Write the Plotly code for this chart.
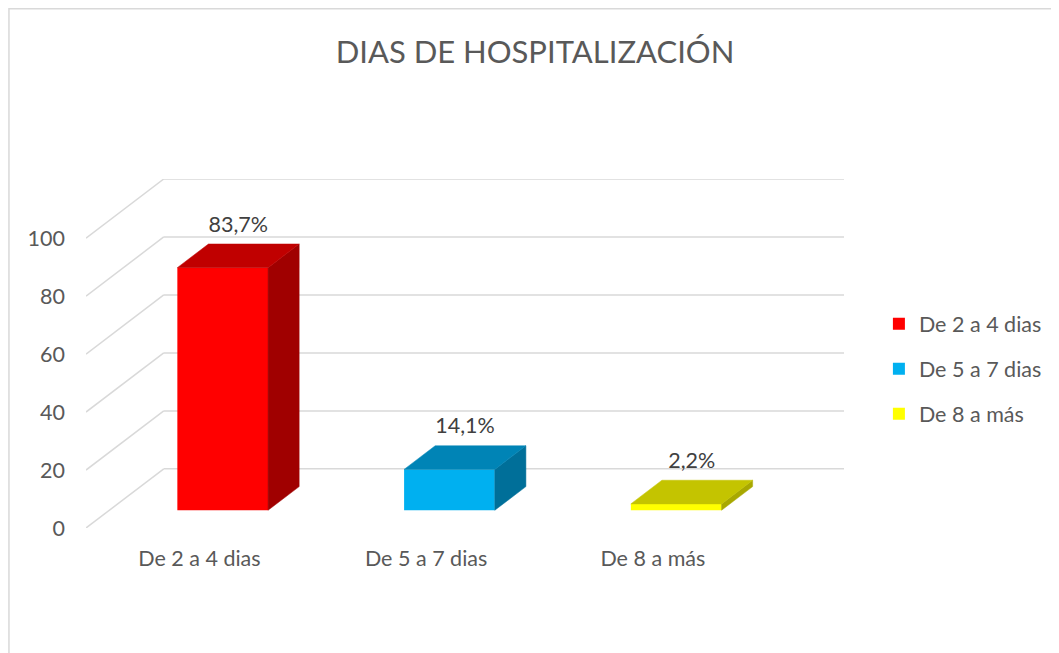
import plotly.graph_objects as go

# ---- data ----
categories = ["De 2 a 4 dias", "De 5 a 7 dias", "De 8 a más"]
values = [83.7, 14.1, 2.2]
y_ticks = [0, 20, 40, 60, 80, 100]
title_text = "DIAS DE HOSPITALIZACIÓN"

# ---- style ----
front_colors = ["#FF0000", "#00B0F0", "#FFFF00"]
top_colors = ["#C00000", "#0084B6", "#C4C400"]
side_colors = ["#A00000", "#006F99", "#A8A800"]
grid_color = "#D9D9D9"
text_color = "#595959"
FONT = "Lato"
FS = 21.5

# pseudo-3D projection (depth vector in data units)
DX, DY = 0.343, 20.4
F0, F1 = 0.3, 0.7      # bar depth span (fraction of depth)
HALF = 0.2             # half bar width (category units)

# figure geometry (page has an 8px body margin)
W, H = 1051, 645
ML, MR, MT, MB = 78, 213, 171, 125
PW, PH = W - ML - MR, H - MT - MB

fig = go.Figure()

# front faces as bars
for i, (cat, v) in enumerate(zip(categories, values)):
    fig.add_trace(go.Bar(
        x=[i + F0 * DX], y=[v], base=[F0 * DY], width=[2 * HALF],
        name=cat, legendgroup=cat,
        marker=dict(color=front_colors[i], line=dict(width=0)),
        hoverinfo="skip",
    ))

# top & side faces
for i, v in enumerate(values):
    xl, xr = i - HALF, i + HALF
    top_x = [xl + F0 * DX, xr + F0 * DX, xr + F1 * DX, xl + F1 * DX, xl + F0 * DX]
    top_y = [v + F0 * DY, v + F0 * DY, v + F1 * DY, v + F1 * DY, v + F0 * DY]
    side_x = [xr + F0 * DX, xr + F0 * DX, xr + F1 * DX, xr + F1 * DX, xr + F0 * DX]
    side_y = [F0 * DY, v + F0 * DY, v + F1 * DY, F1 * DY, F0 * DY]
    fig.add_trace(go.Scatter(x=side_x, y=side_y, fill="toself", mode="lines",
                             fillcolor=side_colors[i],
                             line=dict(color=side_colors[i], width=0.5),
                             showlegend=False, hoverinfo="skip"))
    fig.add_trace(go.Scatter(x=top_x, y=top_y, fill="toself", mode="lines",
                             fillcolor=top_colors[i],
                             line=dict(color=top_colors[i], width=0.5),
                             showlegend=False, hoverinfo="skip"))

# data labels
fig.add_trace(go.Scatter(
    x=[i + 0.5 * DX for i in range(len(values))],
    y=[v + DY for v in values],
    text=[f"{v:.1f}".replace(".", ",") + "%" for v in values],
    mode="text", textposition="middle center",
    textfont=dict(family=FONT, size=FS, color="#404040"),
    showlegend=False, hoverinfo="skip",
))

# gridlines: diagonal side wall + back wall
x_left = -0.5
x_right = len(categories) - 0.5
for t in y_ticks:
    fig.add_shape(type="line", xref="x", yref="y", layer="below",
                  x0=x_left, y0=t, x1=x_left + DX, y1=t + DY,
                  line=dict(color=grid_color, width=1.5))
    fig.add_shape(type="line", xref="x", yref="y", layer="below",
                  x0=x_left + DX, y0=t + DY, x1=x_right + DX, y1=t + DY,
                  line=dict(color=grid_color, width=1.5))

# chart border (light), top and left edges visible
fig.add_shape(type="rect", xref="paper", yref="paper", layer="below",
              x0=(0.75 - ML) / PW, x1=(W + 20 - ML) / PW,
              y0=-(MB + 20) / PH, y1=(PH + MT - 0.75) / PH,
              line=dict(color="#D9D9D9", width=1.5), fillcolor="rgba(0,0,0,0)")

fig.update_layout(
    width=W, height=H,
    margin=dict(l=ML, r=MR, t=MT, b=MB),
    paper_bgcolor="white", plot_bgcolor="white",
    barmode="overlay",
    font=dict(family=FONT, color=text_color, size=FS),
    title=dict(text=title_text, x=527 / W, xanchor="center",
               y=1 - 44 / H, yanchor="middle",
               font=dict(family=FONT, size=31, color=text_color)),
    xaxis=dict(range=[x_left, x_right + DX], tickvals=list(range(len(categories))),
               ticktext=categories, showgrid=False, zeroline=False,
               showline=False, ticks="", ticklabelstandoff=15,
               tickfont=dict(family=FONT, size=FS, color=text_color),
               fixedrange=True),
    yaxis=dict(range=[0, max(y_ticks) + DY], tickvals=y_ticks,
               showgrid=False, zeroline=False, showline=False, ticks="",
               ticklabelstandoff=20,
               tickfont=dict(family=FONT, size=FS, color=text_color),
               fixedrange=True),
    legend=dict(x=(873 - ML) / PW, xanchor="left", y=0.456, yanchor="middle",
                itemwidth=30, tracegroupgap=14,
                font=dict(family=FONT, size=FS, color=text_color),
                bgcolor="rgba(0,0,0,0)"),
    showlegend=True,
)

fig.write_html("out.html")
